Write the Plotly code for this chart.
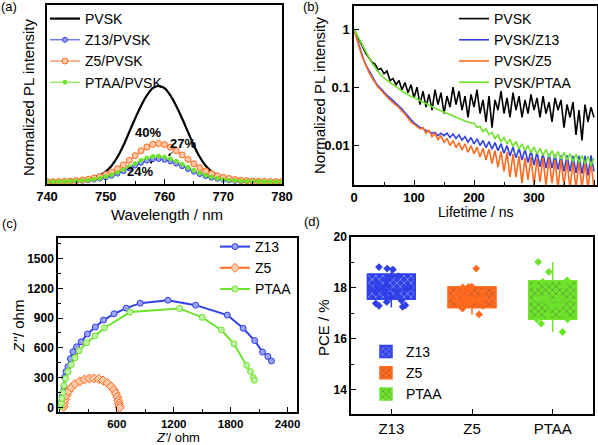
import plotly.graph_objects as go

# ---------------- data ----------------
# (a) steady-state PL
wavelength = list(range(740, 781))
pl_pvsk = [0.002, 0.002, 0.003, 0.004, 0.006, 0.010, 0.017, 0.028, 0.045, 0.072,
           0.11, 0.17, 0.26, 0.38, 0.52, 0.66, 0.79, 0.90, 0.975, 1.0,
           0.975, 0.90, 0.79, 0.66, 0.52, 0.38, 0.26, 0.17, 0.11, 0.072,
           0.045, 0.028, 0.017, 0.010, 0.006, 0.004, 0.003, 0.002, 0.002, 0.002, 0.002]
pl_z13 = [0.003, 0.003, 0.004, 0.005, 0.007, 0.010, 0.014, 0.019, 0.026, 0.036,
          0.049, 0.066, 0.088, 0.114, 0.142, 0.172, 0.200, 0.223, 0.237, 0.240,
          0.232, 0.215, 0.192, 0.165, 0.136, 0.108, 0.083, 0.062, 0.046, 0.034,
          0.025, 0.018, 0.013, 0.010, 0.008, 0.006, 0.005, 0.004, 0.004, 0.003, 0.003]
pl_z5 = [0.005, 0.005, 0.006, 0.008, 0.011, 0.016, 0.022, 0.030, 0.042, 0.057,
         0.078, 0.105, 0.140, 0.180, 0.225, 0.275, 0.325, 0.365, 0.392, 0.400,
         0.390, 0.362, 0.325, 0.282, 0.235, 0.190, 0.150, 0.115, 0.088, 0.066,
         0.050, 0.037, 0.027, 0.020, 0.015, 0.011, 0.008, 0.007, 0.006, 0.005, 0.005]
pl_ptaa = [0.004, 0.004, 0.005, 0.006, 0.008, 0.011, 0.016, 0.021, 0.029, 0.040,
           0.055, 0.074, 0.099, 0.128, 0.160, 0.194, 0.225, 0.251, 0.266, 0.270,
           0.261, 0.242, 0.216, 0.186, 0.153, 0.122, 0.094, 0.070, 0.052, 0.038,
           0.028, 0.020, 0.015, 0.011, 0.009, 0.007, 0.006, 0.005, 0.004, 0.004, 0.004]
pl_labels = ["40%", "27%", "24%"]

# (b) TRPL decay
lifetime = list(range(0, 401, 5))
tr_pvsk = [1.0, 0.78, 0.6, 0.47, 0.38, 0.32, 0.27, 0.25, 0.2, 0.21,
           0.17, 0.19, 0.13, 0.14, 0.11, 0.13, 0.09, 0.12, 0.08, 0.11,
           0.065, 0.1, 0.05, 0.085, 0.045, 0.075, 0.04, 0.09, 0.05, 0.08,
           0.035, 0.07, 0.045, 0.1, 0.05, 0.085, 0.04, 0.07, 0.03, 0.075,
           0.045, 0.09, 0.035, 0.06, 0.025, 0.07, 0.02, 0.06, 0.04, 0.085,
           0.035, 0.065, 0.03, 0.08, 0.04, 0.07, 0.03, 0.06, 0.035, 0.075,
           0.04, 0.065, 0.03, 0.07, 0.035, 0.055, 0.025, 0.065, 0.04, 0.06,
           0.02, 0.05, 0.03, 0.055, 0.015, 0.04, 0.012, 0.05, 0.025, 0.045, 0.03]
tr_z13 = [1.0, 0.66, 0.45, 0.32, 0.24, 0.19, 0.15, 0.125, 0.105, 0.092,
          0.08, 0.072, 0.065, 0.058, 0.053, 0.047, 0.042, 0.036, 0.031, 0.027,
          0.024, 0.022, 0.020, 0.019, 0.018, 0.017, 0.016, 0.0165, 0.0145, 0.016,
          0.0145, 0.016, 0.0135, 0.0155, 0.013, 0.015, 0.0122, 0.014, 0.0112, 0.0135,
          0.0105, 0.0128, 0.0098, 0.012, 0.009, 0.0115, 0.0085, 0.011, 0.008, 0.0105,
          0.0072, 0.0098, 0.0065, 0.0092, 0.006, 0.0088, 0.0055, 0.0085, 0.005, 0.008,
          0.0045, 0.0075, 0.0042, 0.0072, 0.004, 0.007, 0.004, 0.0068, 0.0038, 0.0066,
          0.0035, 0.0066, 0.0035, 0.0065, 0.0033, 0.0065, 0.0032, 0.0065, 0.003, 0.0066, 0.0035]
tr_z5 = [1.0, 0.65, 0.44, 0.31, 0.23, 0.18, 0.145, 0.12, 0.1, 0.088,
         0.076, 0.068, 0.06, 0.055, 0.049, 0.044, 0.039, 0.034, 0.029, 0.025,
         0.023, 0.021, 0.019, 0.020, 0.016, 0.018, 0.014, 0.016, 0.0125, 0.0145,
         0.011, 0.013, 0.0098, 0.012, 0.009, 0.011, 0.0082, 0.0105, 0.0075, 0.0098,
         0.007, 0.0092, 0.0062, 0.0088, 0.0055, 0.0085, 0.0048, 0.008, 0.0042, 0.0078,
         0.0035, 0.0075, 0.0028, 0.007, 0.0028, 0.0065, 0.0022, 0.006, 0.0025, 0.0062,
         0.002, 0.0058, 0.0023, 0.006, 0.002, 0.0058, 0.0022, 0.0055, 0.0018, 0.0055,
         0.002, 0.0052, 0.0018, 0.005, 0.0018, 0.0052, 0.0018, 0.005, 0.0018, 0.005, 0.0018]
tr_ptaa = [1.0, 0.8, 0.63, 0.5, 0.4, 0.32, 0.26, 0.22, 0.185, 0.16,
           0.145, 0.13, 0.12, 0.11, 0.1, 0.092, 0.085, 0.079, 0.073, 0.069,
           0.066, 0.062, 0.058, 0.054, 0.051, 0.048, 0.046, 0.043, 0.041, 0.039,
           0.037, 0.035, 0.033, 0.031, 0.030, 0.028, 0.027, 0.026, 0.025, 0.024,
           0.024, 0.020, 0.021, 0.017, 0.019, 0.015, 0.0165, 0.013, 0.015, 0.0115,
           0.0135, 0.0105, 0.0125, 0.0095, 0.0115, 0.0085, 0.0105, 0.008, 0.0098, 0.0074,
           0.0092, 0.007, 0.0088, 0.0066, 0.0084, 0.0062, 0.008, 0.006, 0.0077, 0.0057,
           0.0074, 0.0055, 0.0071, 0.0052, 0.0069, 0.005, 0.0066, 0.0047, 0.0064, 0.0044, 0.006]

# (c) Nyquist plots
z13_re = [12, 16, 20, 26, 35, 44, 50, 65, 85, 110, 138, 175, 224, 290, 374, 460, 572, 700,
          847, 1139, 1431, 1765, 1932, 2054, 2137, 2193, 2231]
z13_im = [10, 26, 60, 112, 160, 210, 303, 360, 410, 490, 560, 610, 660, 740, 810, 880, 943, 1000,
          1050, 1080, 1030, 930, 797, 673, 557, 513, 467]
z5_re = [40, 45, 55, 70, 90, 120, 160, 210, 260, 310, 360, 410, 455, 500, 540, 570, 590, 605,
         615, 622, 627, 630]
z5_im = [5, 40, 80, 120, 160, 200, 235, 262, 280, 290, 292, 286, 270, 245, 210, 175, 140, 105,
         70, 40, 15, -5]
ptaa_re = [8, 15, 22, 30, 42, 60, 85, 120, 160, 203, 280, 370, 470, 740, 1261, 1500, 1702, 1835,
           1970, 2010, 2040, 2050]
ptaa_im = [10, 40, 90, 150, 220, 290, 360, 430, 500, 570, 650, 720, 800, 960, 997, 907, 780, 640,
           423, 360, 300, 273]

# (d) PCE statistics
devices = ["Z13", "Z5", "PTAA"]
pce_q1 = [17.57, 17.23, 16.77]
pce_median = [17.94, 17.56, 17.52]
pce_q3 = [18.54, 18.04, 18.27]
pce_low = [17.23, 16.96, 16.27]
pce_high = [18.82, 18.04, 19.02]
pce_z13 = [18.82, 18.76, 18.72, 18.43, 18.46, 18.3, 18.2, 18.04, 18.0, 17.97, 17.91, 17.87,
           17.84, 17.95, 17.75, 17.62, 17.5, 17.45, 17.39, 17.32, 17.26, 17.3, 18.1, 17.8]
pce_z5 = [18.76, 18.04, 18.02, 18.05, 17.78, 17.84, 17.75, 17.9, 17.58, 17.52, 17.57, 17.52,
          17.62, 17.39, 17.4, 17.38, 17.19, 17.32, 16.96, 17.3, 17.6]
pce_ptaa = [19.02, 18.63, 18.3, 18.24, 18.1, 18.08, 16.77, 16.6, 17.65, 17.56, 17.62, 17.26,
            17.28, 16.94, 17.0, 16.77, 16.27, 17.5]

# ---------------- style ----------------
BLUE = "#2f40e8"
ORANGE = "#ff6a1f"
GREEN = "#6ee32b"
BLUE_L = "#9aa3f5"
ORANGE_L = "#ffc9a8"
GREEN_L = "#c2f3a5"
FONT = "Liberation Sans, Arial, sans-serif"
W, H = 598, 445


def px(x):
    return x / W


def py(y):
    return 1 - y / H


fig = go.Figure()

# ---- (a) ----
fig.add_trace(go.Scatter(x=wavelength, y=pl_pvsk, mode="lines", name="PVSK",
                         line=dict(color="black", width=2.2, shape="spline"),
                         xaxis="x", yaxis="y", legend="legend"))
fig.add_trace(go.Scatter(x=wavelength, y=pl_z13, mode="lines+markers", name="Z13/PVSK",
                         line=dict(color=BLUE, width=1),
                         marker=dict(symbol="circle", size=5, color=BLUE_L, line=dict(color=BLUE, width=1)),
                         xaxis="x", yaxis="y", legend="legend"))
fig.add_trace(go.Scatter(x=wavelength, y=pl_z5, mode="lines+markers", name="Z5/PVSK",
                         line=dict(color=ORANGE, width=1),
                         marker=dict(symbol="circle", size=6, color=ORANGE_L, line=dict(color=ORANGE, width=1)),
                         xaxis="x", yaxis="y", legend="legend"))
fig.add_trace(go.Scatter(x=wavelength, y=pl_ptaa, mode="lines+markers", name="PTAA/PVSK",
                         line=dict(color=GREEN, width=1),
                         marker=dict(symbol="circle", size=4, color=GREEN, line=dict(color=GREEN, width=1)),
                         xaxis="x", yaxis="y", legend="legend"))

# ---- (b) ----
for name, ys, col in [("PVSK", tr_pvsk, "black"), ("PVSK/Z13", tr_z13, BLUE),
                      ("PVSK/Z5", tr_z5, ORANGE), ("PVSK/PTAA", tr_ptaa, GREEN)]:
    fig.add_trace(go.Scatter(x=lifetime, y=ys, mode="lines", name=name,
                             line=dict(color=col, width=1.6),
                             xaxis="x2", yaxis="y2", legend="legend2"))

# ---- (c) ----
fig.add_trace(go.Scatter(x=z13_re, y=z13_im, mode="lines+markers", name="Z13",
                         line=dict(color=BLUE, width=2),
                         marker=dict(symbol="circle", size=6, color=BLUE_L, line=dict(color=BLUE, width=1)),
                         xaxis="x3", yaxis="y3", legend="legend3"))
fig.add_trace(go.Scatter(x=z5_re, y=z5_im, mode="lines+markers", name="Z5",
                         line=dict(color=ORANGE, width=2),
                         marker=dict(symbol="diamond", size=7, color=ORANGE_L, line=dict(color=ORANGE, width=1)),
                         xaxis="x3", yaxis="y3", legend="legend3"))
fig.add_trace(go.Scatter(x=ptaa_re, y=ptaa_im, mode="lines+markers", name="PTAA",
                         line=dict(color=GREEN, width=2),
                         marker=dict(symbol="circle", size=6, color=GREEN_L, line=dict(color=GREEN, width=1)),
                         xaxis="x3", yaxis="y3", legend="legend3"))

# ---- (d) ----
colors_d = [BLUE, ORANGE, GREEN]
points_d = [pce_z13, pce_z5, pce_ptaa]
for i, dev in enumerate(devices):
    col = colors_d[i]
    fig.add_trace(go.Bar(x=[dev], y=[pce_q3[i] - pce_q1[i]], base=[pce_q1[i]], width=0.59, name=dev,
                         marker=dict(color=col, line=dict(color=col, width=1.5),
                                     pattern=dict(shape="x", size=5, solidity=0.25)),
                         xaxis="x4", yaxis="y4", legend="legend4"))
    fig.add_trace(go.Box(x=[dev], q1=[pce_q1[i]], median=[pce_median[i]], q3=[pce_q3[i]],
                         lowerfence=[pce_low[i]], upperfence=[pce_high[i]], orientation="v",
                         width=0.59, whiskerwidth=0, fillcolor="rgba(0,0,0,0)",
                         line=dict(color=col, width=1.5), boxpoints=False, showlegend=False,
                         xaxis="x4", yaxis="y4"))
    fig.add_trace(go.Box(x=[dev] * len(points_d[i]), y=points_d[i], boxpoints="all", jitter=0.9,
                         pointpos=0, width=0.62, fillcolor="rgba(0,0,0,0)",
                         line=dict(color="rgba(0,0,0,0)", width=0),
                         marker=dict(color=col, symbol="diamond", size=6),
                         showlegend=False, xaxis="x4", yaxis="y4"))

# ---------------- layout ----------------
bold13 = dict(family=FONT, size=13, color="black", weight="bold")
bold12 = dict(family=FONT, size=12, color="black", weight="bold")
bold11 = dict(family=FONT, size=11.5, color="black", weight="bold")
frame = dict(showline=True, mirror=True, linecolor="black", linewidth=1.5,
             showgrid=False, zeroline=False, ticks="inside", tickcolor="black", ticklen=5)

legend_base = dict(xanchor="left", yanchor="top", bgcolor="rgba(0,0,0,0)",
                   font=dict(family=FONT, size=14, color="black"), tracegroupgap=0)

fig.update_layout(
    width=W, height=H, margin=dict(l=0, r=0, t=0, b=0, autoexpand=False),
    paper_bgcolor="white", plot_bgcolor="white",
    font=dict(family=FONT, color="black"),
    barmode="overlay", boxmode="overlay",
    xaxis=dict(domain=[px(47), px(282)], anchor="y", range=[740, 780], tick0=740, dtick=10,
               tickfont=bold13, minor=dict(ticks="inside", ticklen=3, dtick=5, tick0=740), **frame),
    yaxis=dict(domain=[py(184), py(5)], anchor="x", range=[-0.02, 1.84], showticklabels=False,
               **{**frame, "ticks": ""}),
    xaxis2=dict(domain=[px(354), px(597)], anchor="y2", range=[0, 405], tick0=0, dtick=100,
                tickfont=bold13, minor=dict(ticks="inside", ticklen=3, dtick=50, tick0=0), **frame),
    yaxis2=dict(domain=[py(185), py(6)], anchor="x2", type="log", range=[-2.69, 0.40],
                tickvals=[0.01, 0.1, 1], ticktext=["0.01", "0.1", "1"], tickfont=bold13, **frame),
    xaxis3=dict(domain=[px(58), px(297)], anchor="y3", range=[-20, 2500],
                tickvals=[600, 1200, 1800, 2400], tickfont=bold11,
                minor=dict(ticks="inside", ticklen=3, dtick=300, tick0=0), **frame),
    yaxis3=dict(domain=[py(412), py(238)], anchor="x3", range=[-47, 1707], tick0=0, dtick=300,
                tickfont=bold12, minor=dict(ticks="inside", ticklen=3, dtick=150, tick0=0), **frame),
    xaxis4=dict(domain=[px(351), px(593)], anchor="y4", type="category", categoryorder="array",
                categoryarray=devices, range=[-0.5, 2.5],
                tickfont=dict(family=FONT, size=15, color="black"), **frame),
    yaxis4=dict(domain=[py(414), py(237)], anchor="x4", range=[13.05, 20], tick0=14, dtick=2,
                tickfont=bold12, minor=dict(ticks="inside", ticklen=3, dtick=1, tick0=13), **frame),
    legend=dict(x=px(45), y=py(3), **legend_base),
    legend2=dict(x=px(454), y=py(3), **legend_base),
    legend3=dict(x=px(215), y=py(231), **legend_base),
    legend4=dict(x=px(366), y=py(336), **legend_base),
)

annotations = []


def txt(x, y, text, size=15, angle=0, weight="normal"):
    annotations.append(dict(x=px(x), y=py(y), xref="paper", yref="paper", text=text,
                            showarrow=False, textangle=angle, xanchor="center", yanchor="middle",
                            font=dict(family=FONT, size=size, color="black", weight=weight)))


txt(167, 214, "Wavelength / nm")
txt(28, 97, "Normalized PL intensity", angle=-90)
txt(475, 212, "Lifetime / ns", size=14)
txt(320, 95, "Normalized PL intensity", angle=-90)
txt(178, 437.5, "<i>Z'</i>/ ohm", size=13)
txt(18, 327, "<i>Z''</i>/ ohm", angle=-90)
txt(323, 328, "PCE / %", angle=-90)
txt(9, 7, "(a)", size=13)
txt(311, 6, "(b)", size=13)
txt(9, 223, "(c)", size=13)
txt(312, 221, "(d)", size=13)

# percentage labels with arrows in (a)
arrow_tips = [(758.7, 0.415), (760.6, 0.27), (758.0, 0.22)]
label_pos = [(757.2, 0.51), (763.1, 0.406), (755.8, 0.105)]
for lab, (tx, ty), (lx, ly) in zip(pl_labels, arrow_tips, label_pos):
    annotations.append(dict(x=tx, y=ty, ax=lx, ay=ly, xref="x", yref="y", axref="x", ayref="y",
                            text=lab, showarrow=True, arrowhead=2, arrowsize=0.6, arrowwidth=1,
                            arrowcolor="black", standoff=0,
                            font=dict(family=FONT, size=13, color="black", weight="bold")))

fig.update_layout(annotations=annotations)
fig.write_html("out.html", config={"displayModeBar": False},
               post_script="document.body.style.margin='0';")
